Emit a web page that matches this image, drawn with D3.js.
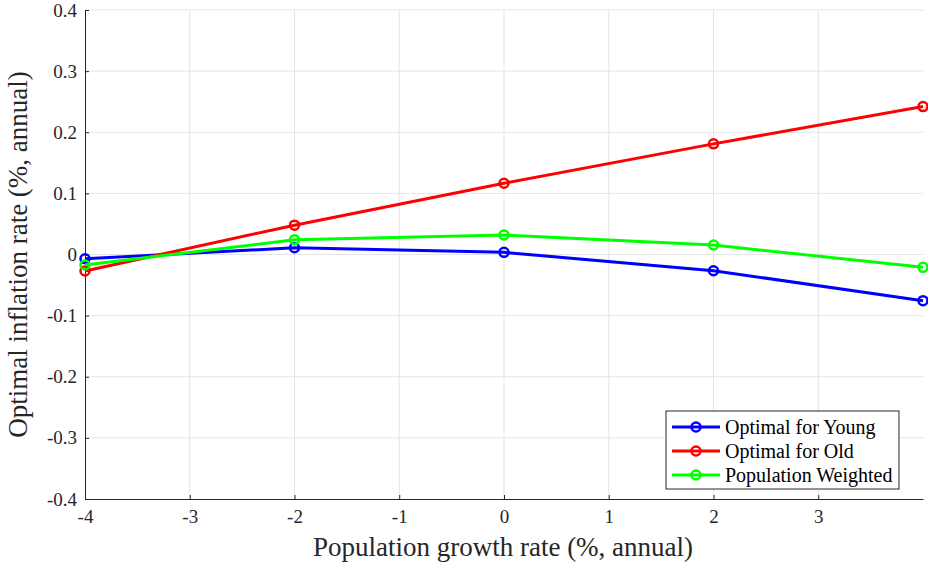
<!DOCTYPE html>
<html><head><meta charset="utf-8">
<script src="https://cdn.jsdelivr.net/npm/d3@7"></script>
<style>
body{margin:0;background:#fff;}
svg{display:block;}
svg text{font-family:"Liberation Serif","Times New Roman",serif !important;fill:#262626;}
</style></head>
<body>
<svg id="c" width="928" height="567"></svg>
<script>
const xValues = [-4, -2, 0, 2, 4];
const young = [-0.007, 0.011, 0.0035, -0.0265, -0.0755];
const old = [-0.027, 0.048, 0.1165, 0.181, 0.242];
const weighted = [-0.017, 0.024, 0.032, 0.0155, -0.021];
const seriesNames = ["Optimal for Young", "Optimal for Old", "Population Weighted"];
const seriesColors = ["#0000ff", "#ff0000", "#00ff00"];
const xTicks = [-4, -3, -2, -1, 0, 1, 2, 3];
const yTicks = [-0.4, -0.3, -0.2, -0.1, 0, 0.1, 0.2, 0.3, 0.4];
const xLabel = "Population growth rate (%, annual)";
const yLabel = "Optimal inflation rate (%, annual)";

const FONT = "Liberation Serif, Times New Roman, serif";
const svg = d3.select("#c");
const L = 85, R = 923, T = 10, B = 499;
const x = d3.scaleLinear().domain([-4, 4]).range([L, R]);
const y = d3.scaleLinear().domain([-0.4, 0.4]).range([B, T]);

// grid
svg.append("g").selectAll("line").data(xTicks.slice(1)).join("line")
  .attr("x1", d => x(d)).attr("x2", d => x(d)).attr("y1", T).attr("y2", B)
  .attr("stroke", "#e5e5e5").attr("stroke-width", 1);
svg.append("g").selectAll("line").data(yTicks.slice(1)).join("line")
  .attr("x1", L).attr("x2", R).attr("y1", d => y(d)).attr("y2", d => y(d))
  .attr("stroke", "#e5e5e5").attr("stroke-width", 1);

// axes
const fmtX = d => String(d);
const fmtY = d => d === 0 ? "0" : d.toFixed(1);
const xAxis = svg.append("g").attr("transform", `translate(0,${B})`)
  .call(d3.axisBottom(x).tickValues(xTicks).tickFormat(fmtX).tickSizeInner(-4).tickSizeOuter(0).tickPadding(10));
const yAxis = svg.append("g").attr("transform", `translate(${L},0)`)
  .call(d3.axisLeft(y).tickValues(yTicks).tickFormat(fmtY).tickSizeInner(-4).tickSizeOuter(0).tickPadding(8));
[xAxis, yAxis].forEach(a => {
  a.attr("font-family", FONT).attr("font-size", 19);
  a.select(".domain").attr("stroke", "#262626").attr("stroke-width", 1);
  a.selectAll(".tick line").attr("stroke", "#262626");
  a.selectAll(".tick text").attr("fill", "#262626").style("font-family", FONT).style("font-size", "19px");
});
xAxis.selectAll(".tick text").attr("dy", "0.72em");

// axis titles
svg.append("text").attr("x", 503).attr("y", 556).attr("text-anchor", "middle")
  .attr("font-size", 27).text(xLabel);
svg.append("text").attr("transform", `translate(27,${(T + B) / 2}) rotate(-90)`)
  .attr("text-anchor", "middle").attr("font-size", 27).text(yLabel);

// series
const allSeries = [young, old, weighted];
const line = d3.line().x((d, i) => x(xValues[i])).y(d => y(d));
allSeries.forEach((vals, k) => {
  const g = svg.append("g");
  g.append("path").datum(vals).attr("d", line).attr("fill", "none")
    .attr("stroke", seriesColors[k]).attr("stroke-width", 3);
  g.selectAll("circle").data(vals).join("circle")
    .attr("cx", (d, i) => x(xValues[i])).attr("cy", d => y(d)).attr("r", 4.5)
    .attr("fill", "none").attr("stroke", seriesColors[k]).attr("stroke-width", 2.5);
});

// legend
const lg = svg.append("g").attr("transform", "translate(666,411)");
lg.append("rect").attr("x", 0).attr("y", 0).attr("width", 233).attr("height", 78)
  .attr("fill", "#fff").attr("stroke", "#262626").attr("stroke-width", 1);
seriesNames.forEach((n, k) => {
  const yy = 16 + k * 24;
  lg.append("line").attr("x1", 6).attr("x2", 54).attr("y1", yy).attr("y2", yy)
    .attr("stroke", seriesColors[k]).attr("stroke-width", 3);
  lg.append("circle").attr("cx", 30).attr("cy", yy).attr("r", 4.5).attr("fill", "none")
    .attr("stroke", seriesColors[k]).attr("stroke-width", 2.5);
  lg.append("text").attr("x", 59).attr("y", yy).attr("dy", "0.35em").attr("font-size", 20)
    .style("fill", "#000").text(n);
});
</script>
</body></html>
